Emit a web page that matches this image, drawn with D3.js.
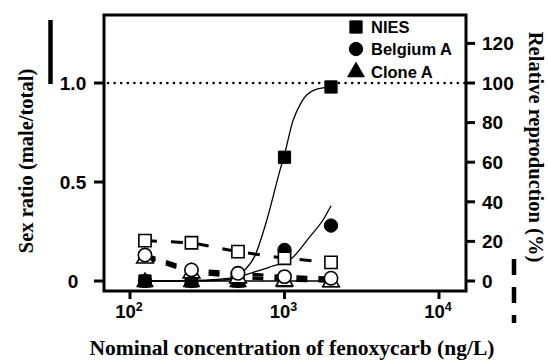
<!DOCTYPE html>
<html>
<head>
<meta charset="utf-8">
<script src="https://cdn.jsdelivr.net/npm/d3@7"></script>
<style>
  html, body { margin: 0; padding: 0; background: #fff; }
  svg { display: block; }
</style>
</head>
<body>
<svg id="chart" width="548" height="364"></svg>
<script>
// ---------- data ----------
const concentrations = [125, 250, 500, 1000, 2000];
const seriesNames = ["NIES", "Belgium A", "Clone A"];
// sex ratio (left axis), filled markers
const sexRatioNIES = [0, 0, 0, 0.625, 0.98];
const sexRatioBelgium = [0, 0, 0, 0.157, 0.28];
const sexRatioClone = [0, 0, 0, 0, 0];
// relative reproduction (right axis, %), open markers
const reproNIES = [20.4, 19.3, 14.8, 11.5, 9.4];
const reproBelgium = [13.1, 5.6, 3.9, 2.2, 1.4];
const reproClone = [12, 4.5, 2, 0.5, 0];
// fitted curves [concentration, sex ratio]
const fitNIES = [[125,0],[250,0],[400,0.005],[500,0.02],[540,0.047],[640,0.123],[770,0.31],[935,0.56],[1000,0.64],[1135,0.81],[1290,0.905],[1570,0.965],[2000,0.98]];
const fitBelgium = [[125,0],[250,0.003],[500,0.02],[600,0.039],[800,0.07],[1114,0.115],[1460,0.224],[1775,0.308],[2000,0.38]];
// ticks
const xTickExps = [2, 3, 4];
const leftTicks = [0, 0.5, 1.0];
const leftTickLabels = ["0", "0.5", "1.0"];
const rightTicks = [0, 20, 40, 60, 80, 100, 120];
const referenceLevel = 1.0;

// ---------- drawing ----------
const svg = d3.select("#chart");
const frame = {left: 104, right: 466, top: 15, bottom: 291};

const x = d3.scaleLog().domain([100, 10000]).range([130, 439]);
const yL = d3.scaleLinear().domain([0, 1]).range([281, 83]);
const yR = d3.scaleLinear().domain([0, 100]).range([281, 83]);

const sans = "'Liberation Sans', Arial, Helvetica, sans-serif";
const serif = "'Liberation Serif', 'Times New Roman', serif";

svg.append("rect").attr("width", 548).attr("height", 364).attr("fill", "#fff");

// reference dotted line
svg.append("line")
  .attr("x1", frame.left + 4).attr("x2", frame.right)
  .attr("y1", yL(referenceLevel)).attr("y2", yL(referenceLevel))
  .attr("stroke", "#000").attr("stroke-width", 2.6)
  .attr("stroke-dasharray", "0,6.6").attr("stroke-linecap", "round");

// frame
svg.append("rect")
  .attr("x", frame.left).attr("y", frame.top)
  .attr("width", frame.right - frame.left).attr("height", frame.bottom - frame.top)
  .attr("fill", "none").attr("stroke", "#000").attr("stroke-width", 3);

// left axis ticks
const gL = svg.append("g");
leftTicks.forEach((t, i) => {
  gL.append("line").attr("x1", frame.left - 10).attr("x2", frame.left)
    .attr("y1", yL(t)).attr("y2", yL(t)).attr("stroke", "#000").attr("stroke-width", 3);
  gL.append("text").attr("x", 73).attr("y", yL(t) + 6.8)
    .attr("text-anchor", "middle").attr("font-family", sans).attr("font-weight", "bold")
    .attr("font-size", 19).text(leftTickLabels[i]);
});

// right axis ticks
const gR = svg.append("g");
rightTicks.forEach(t => {
  gR.append("line").attr("x1", frame.right).attr("x2", frame.right + 9)
    .attr("y1", yR(t)).attr("y2", yR(t)).attr("stroke", "#000").attr("stroke-width", 3);
  gR.append("text").attr("x", 482).attr("y", yR(t) + 6.8)
    .attr("text-anchor", "start").attr("font-family", sans).attr("font-weight", "bold")
    .attr("font-size", 19).text(t);
});

// x axis ticks
const gX = svg.append("g");
xTickExps.forEach(e => {
  const px = x(Math.pow(10, e));
  gX.append("line").attr("x1", px).attr("x2", px)
    .attr("y1", frame.bottom).attr("y2", frame.bottom + 8)
    .attr("stroke", "#000").attr("stroke-width", 3);
  const t = gX.append("text").attr("x", px - 1).attr("y", 318)
    .attr("text-anchor", "middle").attr("font-family", sans).attr("font-weight", "bold")
    .attr("font-size", 18.5);
  t.append("tspan").text("10");
  t.append("tspan").attr("font-size", 12.5).attr("dy", -7).text(e);
});

// axis titles
svg.append("text").attr("x", 292).attr("y", 355)
  .attr("text-anchor", "middle").attr("font-family", serif).attr("font-weight", "bold")
  .attr("font-size", 21.5).text("Nominal concentration of fenoxycarb (ng/L)");
svg.append("text").attr("transform", "translate(33,161) rotate(-90)")
  .attr("text-anchor", "middle").attr("font-family", serif).attr("font-weight", "bold")
  .attr("font-size", 20.5).text("Sex ratio (male/total)");
svg.append("text").attr("transform", "translate(529,147) rotate(90)")
  .attr("text-anchor", "middle").attr("font-family", serif).attr("font-weight", "bold")
  .attr("font-size", 20.5).text("Relative reproduction (%)");

// side bars (solid left, dashed right)
svg.append("line").attr("x1", 50.5).attr("x2", 50.5).attr("y1", 20).attr("y2", 84)
  .attr("stroke", "#000").attr("stroke-width", 4.5);
svg.append("line").attr("x1", 514).attr("x2", 514).attr("y1", 259).attr("y2", 323)
  .attr("stroke", "#000").attr("stroke-width", 4.5).attr("stroke-dasharray", "16,12");

// fitted curves
const fitLine = d3.line().x(d => x(d[0])).y(d => yL(d[1])).curve(d3.curveMonotoneX);
[fitNIES, fitBelgium].forEach(f => {
  svg.append("path").attr("d", fitLine(f)).attr("fill", "none")
    .attr("stroke", "#000").attr("stroke-width", 1.3);
});
// clone A solid line at sex ratio values
const lineL = d3.line().x((d, i) => x(concentrations[i])).y(d => yL(d));
svg.append("path").attr("d", lineL(sexRatioClone)).attr("fill", "none")
  .attr("stroke", "#000").attr("stroke-width", 1.5);

// dashed reproduction lines
const lineR = d3.line().x((d, i) => x(concentrations[i])).y(d => yR(d));
svg.append("path").attr("d", lineR(reproClone)).attr("fill", "none")
  .attr("stroke", "#000").attr("stroke-width", 3.5).attr("stroke-dasharray", "11,11");
svg.append("path").attr("d", lineR(reproBelgium)).attr("fill", "none")
  .attr("stroke", "#000").attr("stroke-width", 3.5).attr("stroke-dasharray", "11,11");
svg.append("path").attr("d", lineR(reproNIES)).attr("fill", "none")
  .attr("stroke", "#000").attr("stroke-width", 3).attr("stroke-dasharray", "12,14");

// marker drawing
const symSize = {square: 150, circle: 140, triangle: 120};
function marker(g, type, cx, cy, filled) {
  const sym = type === "square" ? d3.symbolSquare : type === "circle" ? d3.symbolCircle : d3.symbolTriangle;
  g.append("path").attr("d", d3.symbol().type(sym).size(symSize[type])())
    .attr("transform", `translate(${cx},${cy + (type === "triangle" ? 1 : 0)})`)
    .attr("fill", filled ? "#000" : "#fff")
    .attr("stroke", "#000").attr("stroke-width", filled ? 1 : 1.6);
}

const gM = svg.append("g");
const filledSets = [[sexRatioNIES, "square"], [sexRatioBelgium, "circle"], [sexRatioClone, "triangle"]];
filledSets.forEach(([vals, type]) => {
  vals.forEach((v, i) => marker(gM, type, x(concentrations[i]), yL(v), true));
});
const openSets = [[reproClone, "triangle"], [reproBelgium, "circle"], [reproNIES, "square"]];
openSets.forEach(([vals, type]) => {
  vals.forEach((v, i) => marker(gM, type, x(concentrations[i]), yR(v), false));
});

// legend
const gLeg = svg.append("g");
const legTypes = ["square", "circle", "triangle"];
const legY = [27, 49, 72];
seriesNames.forEach((name, i) => {
  marker(gLeg, legTypes[i], 356, legY[i] - (legTypes[i] === "triangle" ? 1 : 0), true);
  gLeg.append("text").attr("x", 371).attr("y", legY[i] + 6)
    .attr("font-family", sans).attr("font-weight", "bold").attr("font-size", 16.5)
    .text(name);
});
</script>
</body>
</html>
